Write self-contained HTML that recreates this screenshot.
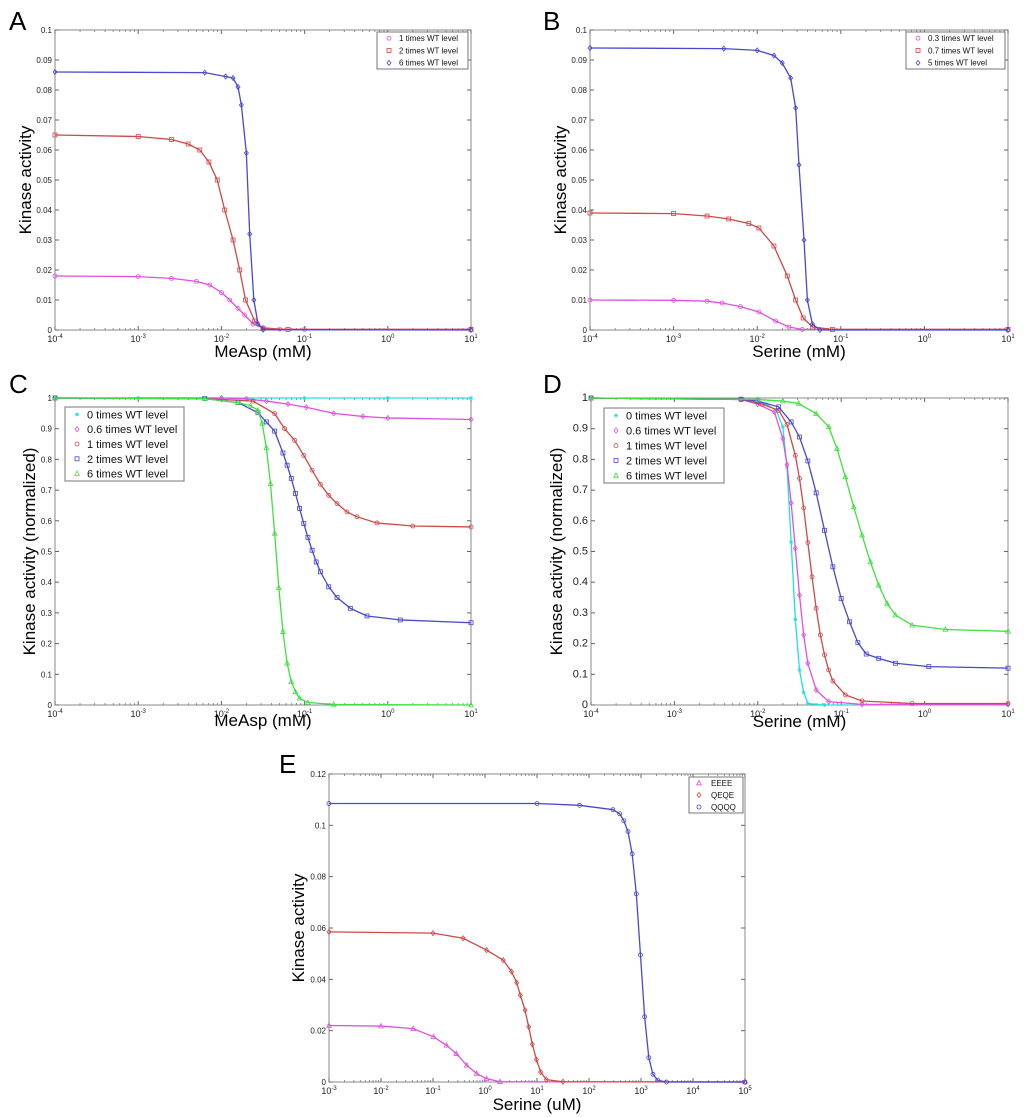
<!DOCTYPE html>
<html><head><meta charset="utf-8"><style>
html,body{margin:0;padding:0;background:#fff;}
svg{display:block;font-family:"Liberation Sans",Arial,sans-serif;}
</style></head><body>
<svg id="fig" width="1024" height="1117" viewBox="0 0 1024 1117" xmlns="http://www.w3.org/2000/svg"></svg>
<script>
// ---- Panel A data (log10 x, y)
const aMag=[[-4,.018],[-3,.0178],[-2.6,.0172],[-2.3,.0162],[-2.14,.015],[-2.0,.0125],[-1.9,.010],[-1.8,.0072],[-1.72,.005],[-1.62,.002],[-1.5,.0008],[-1.3,.0003],[-1,.0002],[1,.0002]];
const aRed=[[-4,.065],[-3,.0645],[-2.6,.0635],[-2.4,.062],[-2.26,.06],[-2.15,.056],[-2.05,.05],[-1.96,.04],[-1.86,.03],[-1.78,.02],[-1.71,.01],[-1.6,.003],[-1.5,.0005],[-1.2,.0002],[1,.0002]];
const aBlue=[[-4,.086],[-2.2,.0858],[-1.95,.0845],[-1.86,.084],[-1.8,.081],[-1.76,.075],[-1.7,.059],[-1.66,.032],[-1.61,.01],[-1.56,.002],[-1.5,.0001],[1,0]];
// ---- Panel B data
const bMag=[[-4,.01],[-3,.0099],[-2.6,.0096],[-2.42,.009],[-2.2,.0078],[-1.98,.006],[-1.78,.003],[-1.62,.001],[-1.46,.0002],[1,.0002]];
const bRed=[[-4,.039],[-3,.0388],[-2.6,.038],[-2.34,.037],[-2.1,.0355],[-1.98,.034],[-1.8,.028],[-1.64,.018],[-1.54,.01],[-1.45,.004],[-1.34,.001],[-1.1,.0002],[1,.0002]];
const bBlue=[[-4,.094],[-2.4,.0938],[-2.0,.0932],[-1.8,.0915],[-1.7,.089],[-1.6,.084],[-1.54,.074],[-1.5,.055],[-1.44,.03],[-1.4,.01],[-1.34,.002],[-1.25,0],[1,0]];
// ---- Panel C data
const cCyan=[[-4,1],[-3,1],[-2,1],[-1,1],[0,1],[1,1]];
const cMag=[[-4,1],[-2,1],[-1.7,.997],[-1.46,.99],[-1.2,.98],[-0.98,.97],[-0.65,.95],[-0.3,.94],[0,.935],[1,.93]];
const cRed=[[-4,1],[-2.2,.998],[-1.62,.99],[-1.36,.949],[-1.24,.90],[-1.12,.862],[-1.01,.813],[-0.91,.765],[-0.81,.719],[-0.71,.683],[-0.61,.656],[-0.49,.629],[-0.37,.613],[-0.13,.593],[0.3,.583],[1,.58]];
const cBlue=[[-4,1],[-2.2,.998],[-1.8,.985],[-1.56,.952],[-1.46,.922],[-1.36,.892],[-1.26,.821],[-1.21,.781],[-1.16,.738],[-1.11,.689],[-1.06,.64],[-1.01,.591],[-0.96,.546],[-0.91,.504],[-0.86,.466],[-0.81,.434],[-0.71,.385],[-0.61,.35],[-0.45,.315],[-0.25,.29],[0.15,.277],[1,.268]];
const cGreen=[[-4,1],[-2.2,.998],[-1.8,.985],[-1.65,.975],[-1.56,.96],[-1.51,.917],[-1.46,.838],[-1.41,.721],[-1.36,.559],[-1.31,.382],[-1.26,.239],[-1.21,.136],[-1.16,.076],[-1.11,.043],[-1.06,.022],[-0.96,.008],[-0.65,.002],[1,0]];
// ---- Panel D data
const dCyan=[[-4,1],[-2.2,.995],[-1.9,.98],[-1.78,.96],[-1.7,.906],[-1.65,.775],[-1.6,.531],[-1.55,.279],[-1.5,.114],[-1.45,.041],[-1.4,.005],[-1.2,0],[1,0]];
const dMag=[[-4,1],[-2.2,.995],[-2.0,.98],[-1.8,.954],[-1.7,.868],[-1.65,.783],[-1.6,.658],[-1.55,.51],[-1.5,.358],[-1.45,.228],[-1.4,.136],[-1.3,.049],[-1.15,.011],[-0.75,.002],[1,.002]];
const dRed=[[-4,1],[-2.2,.995],[-1.95,.98],[-1.75,.96],[-1.65,.914],[-1.55,.813],[-1.5,.738],[-1.45,.642],[-1.4,.529],[-1.35,.418],[-1.3,.315],[-1.25,.228],[-1.2,.163],[-1.15,.114],[-1.1,.078],[-0.95,.033],[-0.75,.013],[-0.15,.005],[1,.005]];
const dBlue=[[-4,1],[-2.2,.996],[-2.0,.99],[-1.75,.971],[-1.6,.922],[-1.5,.873],[-1.4,.795],[-1.3,.691],[-1.2,.569],[-1.1,.45],[-1.0,.347],[-0.9,.271],[-0.8,.203],[-0.7,.166],[-0.55,.152],[-0.35,.136],[0.05,.125],[1,.12]];
const dGreen=[[-4,1],[-2,.995],[-1.7,.99],[-1.51,.982],[-1.3,.949],[-1.15,.906],[-1.05,.835],[-0.95,.743],[-0.85,.645],[-0.75,.553],[-0.65,.466],[-0.55,.39],[-0.45,.331],[-0.35,.293],[-0.15,.26],[0.25,.246],[1,.24]];
// ---- Panel E data
const eEEEE=[[-3,.022],[-2,.0218],[-1.38,.0208],[-0.99,.0176],[-0.74,.0143],[-0.55,.011],[-0.35,.0065],[-0.16,.0033],[0.03,.0013],[0.29,.0001],[5,0]];
const eQEQE=[[-3,.0585],[-1,.058],[-0.42,.056],[0.03,.0514],[0.35,.0475],[0.51,.043],[0.61,.0387],[0.68,.0338],[0.77,.028],[0.84,.0215],[0.91,.0147],[0.99,.0087],[1.07,.0039],[1.18,.0009],[1.5,.0001],[5,0]];
const eQQQQ=[[-3,.1085],[1,.1085],[1.82,.1078],[2.46,.1061],[2.59,.1045],[2.67,.1018],[2.75,.0976],[2.83,.0889],[2.91,.0733],[2.99,.0495],[3.07,.0254],[3.15,.0095],[3.23,.003],[3.32,.0007],[3.49,0],[5,0]];
// tick labels
const ticksA=[0,0.01,0.02,0.03,0.04,0.05,0.06,0.07,0.08,0.09,0.1];
const ticksC=[0,0.1,0.2,0.3,0.4,0.5,0.6,0.7,0.8,0.9,1];
const ticksE=[0,0.02,0.04,0.06,0.08,0.1,0.12];

const NS='http://www.w3.org/2000/svg';
const svg=document.getElementById('fig');
function mk(tag,attrs,parent){const e=document.createElementNS(NS,tag);for(const k in attrs)e.setAttribute(k,attrs[k]);(parent||svg).appendChild(e);return e;}
const COL={mag:'#e050e0',red:'#d04848',blue:'#4848d0',cyan:'#20e0e0',green:'#40e040'};

function marker(g,type,x,y,c){
  let e;
  if(type==='o'){e=mk('circle',{cx:x,cy:y,r:2,fill:'none',stroke:c,'stroke-width':0.8},g);}
  else if(type==='s'){e=mk('rect',{x:x-2,y:y-2,width:4,height:4,fill:'none',stroke:c,'stroke-width':0.8},g);}
  else if(type==='d'){e=mk('polygon',{points:`${x},${y-2.5} ${x+2},${y} ${x},${y+2.5} ${x-2},${y}`,fill:'none',stroke:c,'stroke-width':0.8},g);}
  else if(type==='^'){e=mk('polygon',{points:`${x},${y-2.5} ${x+2.3},${y+1.8} ${x-2.3},${y+1.8}`,fill:'none',stroke:c,'stroke-width':0.8},g);}
  else {e=mk('path',{d:`M${x-2},${y}H${x+2}M${x},${y-2}V${y+2}M${x-1.5},${y-1.5}L${x+1.5},${y+1.5}M${x-1.5},${y+1.5}L${x+1.5},${y-1.5}`,stroke:c,'stroke-width':0.7},g);}
  
  
}

function panel(p){
  const g=mk('g',{});
  
  
  const X=v=>p.x0+(v-p.lx0)/(p.lx1-p.lx0)*(p.x1-p.x0);
  const Y=v=>p.y1-(v/p.ymax)*(p.y1-p.y0);
  const fr=mk('rect',{x:p.x0,y:p.y0,width:p.x1-p.x0,height:p.y1-p.y0,fill:'#fff',stroke:'#888','stroke-width':1},g);
  
  
  for(let d=p.lx0;d<=p.lx1;d++){
    const x=X(d);
    mk('line',{x1:x,y1:p.y1,x2:x,y2:p.y1-4,stroke:'#666'},g);
    mk('line',{x1:x,y1:p.y0,x2:x,y2:p.y0+4,stroke:'#666'},g);
    const t=mk('text',{x:x,y:p.y1+12,'font-size':9,'text-anchor':'middle',fill:'#222'},g);
    
    
    t.textContent='10';
    const s=mk('tspan',{dy:-4,'font-size':6},t);s.textContent=String(d);
    if(d<p.lx1){for(let k=2;k<10;k++){const xm=X(d+Math.log10(k));
      mk('line',{x1:xm,y1:p.y1,x2:xm,y2:p.y1-2,stroke:'#777','stroke-width':0.8},g);
      mk('line',{x1:xm,y1:p.y0,x2:xm,y2:p.y0+2,stroke:'#777','stroke-width':0.8},g);}}
  }
  p.ticks.forEach(v=>{
    const y=Y(v);
    mk('line',{x1:p.x0,y1:y,x2:p.x0+4,y2:y,stroke:'#666'},g);
    mk('line',{x1:p.x1,y1:y,x2:p.x1-4,y2:y,stroke:'#666'},g);
    const t=mk('text',{x:p.x0-3,y:y+3,'font-size':p.tfs,'text-anchor':'end',fill:'#222'},g);
    
    
    t.textContent=String(v);
  });
  p.series.forEach(s=>{
    const sg=mk('g',{},g);
    
    
    mk('polyline',{points:s.data.map(d=>X(d[0])+','+Y(d[1])).join(' '),fill:'none',stroke:s.c,'stroke-width':1.3},sg);
    s.data.forEach(d=>marker(sg,s.m,X(d[0]),Y(d[1]),s.c));
  });
  const L=p.leg;
  const lg=mk('g',{},g);
  
  
  mk('rect',{x:L.x,y:L.y,width:L.w,height:L.h,fill:'#fff',stroke:'#777','stroke-width':1},lg);
  const rh=L.h/p.series.length;
  p.series.forEach((s,i)=>{
    const cy=L.y+rh*(i+0.5);
    const eg=mk('g',{},lg);
    
    
    marker(eg,s.m,L.x+L.mx,cy,s.c);
    const t=mk('text',{x:L.x+L.tx,y:cy+L.fs*0.36,'font-size':L.fs,fill:'#111'},eg);
    t.textContent=s.label;
  });
  const xl=mk('text',{x:(p.x0+p.x1)/2,y:p.xly,'font-size':17,'text-anchor':'middle',fill:'#000'},g);
  
  
  xl.textContent=p.xlabel;
  const yl=mk('text',{x:0,y:0,'font-size':17,'text-anchor':'middle',fill:'#000',transform:`translate(${p.ylx},${(p.y0+p.y1)/2}) rotate(-90)`},g);
  
  
  yl.textContent=p.ylabel;
  const pl=mk('text',{x:p.lt[0],y:p.lt[1],'font-size':26,fill:'#000'},g);
  
  
  pl.textContent=p.letter;
}

panel({name:'panel-a',letter:'A',lt:[9,30],x0:55,x1:471,y0:30,y1:330,lx0:-4,lx1:1,ymax:0.1,ticks:ticksA,tfs:8,
  xlabel:'MeAsp (mM)',xly:357,ylabel:'Kinase activity',ylx:31,
  leg:{x:377,y:32,w:91,h:37,mx:12,tx:22,fs:8},
  series:[{label:'1 times WT level',data:aMag,c:COL.mag,m:'o'},{label:'2 times WT level',data:aRed,c:COL.red,m:'s'},{label:'6 times WT level',data:aBlue,c:COL.blue,m:'d'}]});
panel({name:'panel-b',letter:'B',lt:[543,30],x0:590,x1:1008,y0:30,y1:330,lx0:-4,lx1:1,ymax:0.1,ticks:ticksA,tfs:8,
  xlabel:'Serine (mM)',xly:357,ylabel:'Kinase activity',ylx:566,
  leg:{x:906,y:32,w:99,h:37,mx:12,tx:22,fs:8},
  series:[{label:'0.3 times WT level',data:bMag,c:COL.mag,m:'o'},{label:'0.7 times WT level',data:bRed,c:COL.red,m:'s'},{label:'5 times WT level',data:bBlue,c:COL.blue,m:'d'}]});
panel({name:'panel-c',letter:'C',lt:[9,393],x0:55,x1:471,y0:398,y1:705,lx0:-4,lx1:1,ymax:1,ticks:ticksC,tfs:8,
  xlabel:'MeAsp (mM)',xly:726,ylabel:'Kinase activity (normalized)',ylx:35,
  leg:{x:65,y:407,w:119,h:74,mx:12,tx:22,fs:11},
  series:[{label:'0 times WT level',data:cCyan,c:COL.cyan,m:'*'},{label:'0.6 times WT level',data:cMag,c:COL.mag,m:'d'},{label:'1 times WT level',data:cRed,c:COL.red,m:'o'},{label:'2 times WT level',data:cBlue,c:COL.blue,m:'s'},{label:'6 times WT level',data:cGreen,c:COL.green,m:'^'}]});
panel({name:'panel-d',letter:'D',lt:[543,393],x0:591,x1:1008,y0:398,y1:705,lx0:-4,lx1:1,ymax:1,ticks:ticksC,tfs:11,
  xlabel:'Serine (mM)',xly:727,ylabel:'Kinase activity (normalized)',ylx:562,
  leg:{x:604,y:408,w:120,h:75,mx:12,tx:22,fs:11},
  series:[{label:'0 times WT level',data:dCyan,c:COL.cyan,m:'*'},{label:'0.6 times WT level',data:dMag,c:COL.mag,m:'d'},{label:'1 times WT level',data:dRed,c:COL.red,m:'o'},{label:'2 times WT level',data:dBlue,c:COL.blue,m:'s'},{label:'6 times WT level',data:dGreen,c:COL.green,m:'^'}]});
panel({name:'panel-e',letter:'E',lt:[279,773],x0:329,x1:745,y0:774,y1:1082,lx0:-3,lx1:5,ymax:0.12,ticks:ticksE,tfs:8,
  xlabel:'Serine (uM)',xly:1110,ylabel:'Kinase activity',ylx:304,
  leg:{x:689,y:777,w:54,h:36,mx:10,tx:22,fs:8},
  series:[{label:'EEEE',data:eEEEE,c:COL.mag,m:'^'},{label:'QEQE',data:eQEQE,c:COL.red,m:'d'},{label:'QQQQ',data:eQQQQ,c:COL.blue,m:'o'}]});
</script>
</body></html>
